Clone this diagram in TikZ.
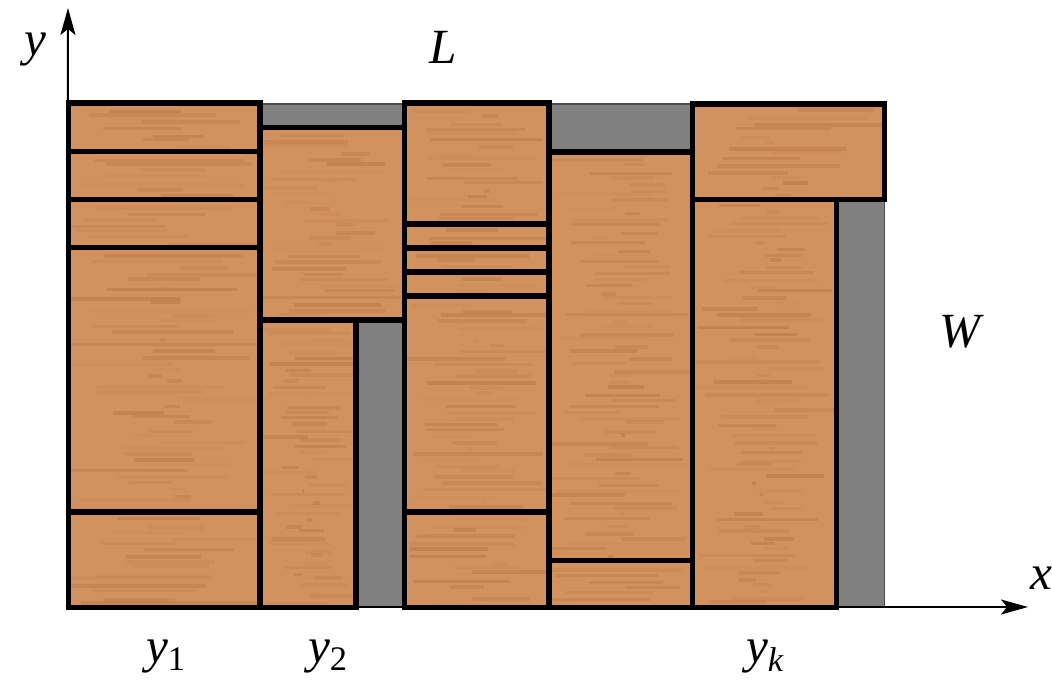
\documentclass[tikz,border=0pt]{standalone}
\usepackage{fontspec}
\setmainfont{Liberation Serif}
\usetikzlibrary{arrows.meta}

\definecolor{wood}{RGB}{210,146,96}
\definecolor{wooddark}{RGB}{150,85,35}
\definecolor{sheetgray}{RGB}{128,128,128}

% one cut piece: fill, grain streaks, thick frame
\newcommand\woodpiece[4]{%
  \fill[wood] (#1,#2) rectangle (#3,#4);
  \begin{scope}
    \clip (#1,#2) rectangle (#3,#4);
    \pgfmathtruncatemacro\nstreak{abs(#4-#2)/6}
    \foreach \k in {1,...,\nstreak}{
      \pgfmathsetmacro\gy{#2+\k*6+rnd*4}
      \pgfmathsetmacro\gop{0.03+0.2*rnd}
      \pgfmathsetmacro\gxa{#1+rnd*(#3-#1)*0.6}
      \pgfmathsetmacro\gxb{#3-rnd*(#3-#1)*0.6}
      \draw[wooddark, opacity=\gop, line width=0.07cm] (\gxa,\gy) -- (\gxb,\gy);
    }
  \end{scope}
  \draw[piece] (#1,#2) rectangle (#3,#4);
}

\begin{document}
\begin{tikzpicture}[
  x=0.02cm, y=-0.02cm,
  piece/.style={draw=black, line width=0.11cm},
  sheet/.style={fill=sheetgray, draw=black!70, line width=0.03cm},
  axis/.style={line width=0.04cm, -{Stealth[length=0.54cm, width=0.3cm, inset=0.12cm]}},
  lbl/.style={font=\fontsize{28}{30}\selectfont\itshape, inner sep=0pt}
]
  \useasboundingbox (0,0) rectangle (1052,683);
  \pgfmathsetseed{11}

  \coordinate (O) at (67,607);
  \coordinate (xend) at (1028,607);
  \coordinate (yend) at (68,8);

  % stock sheet
  \draw[sheet] (67,104) rectangle (884.5,607);
  \draw[axis] (O) -- (xend);
  \draw[axis] (O) -- (yend);

  % column 1
  \woodpiece{68.5}{103}{260}{151.5}
  \woodpiece{68.5}{151.5}{260}{199.5}
  \woodpiece{68.5}{199.5}{260}{247.5}
  \woodpiece{68.5}{247.5}{260}{512}
  \woodpiece{68.5}{512}{260}{607.5}
  % column 2
  \woodpiece{260}{127.5}{404.5}{320}
  \woodpiece{260}{320}{356}{607.5}
  % column 3
  \woodpiece{404.5}{103}{549}{224}
  \woodpiece{404.5}{224}{549}{248}
  \woodpiece{404.5}{248}{549}{272}
  \woodpiece{404.5}{272}{549}{296}
  \woodpiece{404.5}{296}{549}{512}
  \woodpiece{404.5}{512}{549}{607.5}
  % column 4
  \woodpiece{549}{152}{692.5}{560.5}
  \woodpiece{549}{560.5}{692.5}{607.5}
  % column k
  \woodpiece{692.5}{104}{884.5}{199.5}
  \woodpiece{692.5}{199.5}{836.5}{607.5}

  % labels
  \node[lbl] (ylbl) at (35,50) {y};
  \node[lbl] (xlbl) at (1041,578) {x};
  \node[lbl] (Llbl) at (443,47) {L};
  \node[lbl] (Wlbl) at (960,332) {W};
  \node[lbl] (y1) at (166,657) {y\textsubscript{\upshape 1}};
  \node[lbl] (y2) at (328,657) {y\textsubscript{\upshape 2}};
  \node[lbl] (yk) at (765,657) {y\textsubscript{k}};
\end{tikzpicture}
\end{document}
